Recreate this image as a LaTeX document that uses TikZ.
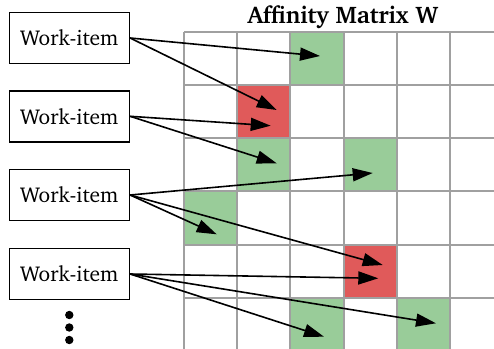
\documentclass[tikz,border=0pt]{standalone}
\usepackage[T1]{fontenc}
\usepackage{charter}
\usetikzlibrary{arrows.meta}
\definecolor{cellgreen}{HTML}{99CC99}
\definecolor{cellred}{HTML}{E05A5A}
\definecolor{gridgray}{HTML}{A0A0A0}
\tikzset{
  itembox/.style={draw=black,line width=1.6pt,fill=white,minimum width=120pt,minimum height=51pt,inner sep=0pt,font=\fontsize{21.5}{24}\selectfont},
  link/.style={line width=1.6pt,-{Triangle[length=20pt,width=13pt]}},
  gridline/.style={draw=gridgray,line width=2pt},
}
\begin{document}
\begin{tikzpicture}[x=1pt,y=-1pt]
\useasboundingbox (0,0) rectangle (494,348);
\def\cw{53.2}
\begin{scope}
\clip (0,0) rectangle (494,348);
% coloured cells (col,row)
\foreach \c/\r/\col in {2/0/cellgreen,1/1/cellred,1/2/cellgreen,3/2/cellgreen,0/3/cellgreen,3/4/cellred,2/5/cellgreen,4/5/cellgreen}{
  \fill[\col] (184+\c*\cw,31.7+\r*\cw) rectangle ++(\cw,\cw);
}
\foreach \k in {0,...,5}{
  \draw[gridline] (184+\k*\cw,31.7) -- (184+\k*\cw,360);
  \draw[gridline] (184,31.7+\k*\cw) -- (500,31.7+\k*\cw);
}
\end{scope}
\node[font=\bfseries\fontsize{24}{28}\selectfont] (title) at (343,16.5) {Affinity Matrix W};
\node[itembox] (w1) at (69.3,38) {Work-item};
\node[itembox] (w2) at (69.3,116.3) {Work-item};
\node[itembox] (w3) at (69.3,195) {Work-item};
\node[itembox] (w4) at (69.3,274) {Work-item};
\coordinate (t1a) at (320,56);
\coordinate (t1b) at (276.7,110);
\coordinate (t2a) at (270.7,125.7);
\coordinate (t2b) at (276.7,163.3);
\coordinate (t3a) at (372.7,173);
\coordinate (t3b) at (216.7,234.3);
\coordinate (t3c) at (382.7,265);
\coordinate (t4a) at (378.3,278.3);
\coordinate (t4b) at (436,323.3);
\coordinate (t4c) at (324,336.7);
\draw[link] (w1.east) -- (t1a);
\draw[link] (w1.east) -- (t1b);
\draw[link] (w2.east) -- (t2a);
\draw[link] (w2.east) -- (t2b);
\draw[link] (w3.east) -- (t3a);
\draw[link] (w3.east) -- (t3b);
\draw[link] (w3.east) -- (t3c);
\draw[link] (w4.east) -- (t4a);
\draw[link] (w4.east) -- (t4b);
\draw[link] (w4.east) -- (t4c);
\foreach \y in {315,327.5,340}{
  \fill (69.3,\y) circle (4.2);
}
\end{tikzpicture}
\end{document}
